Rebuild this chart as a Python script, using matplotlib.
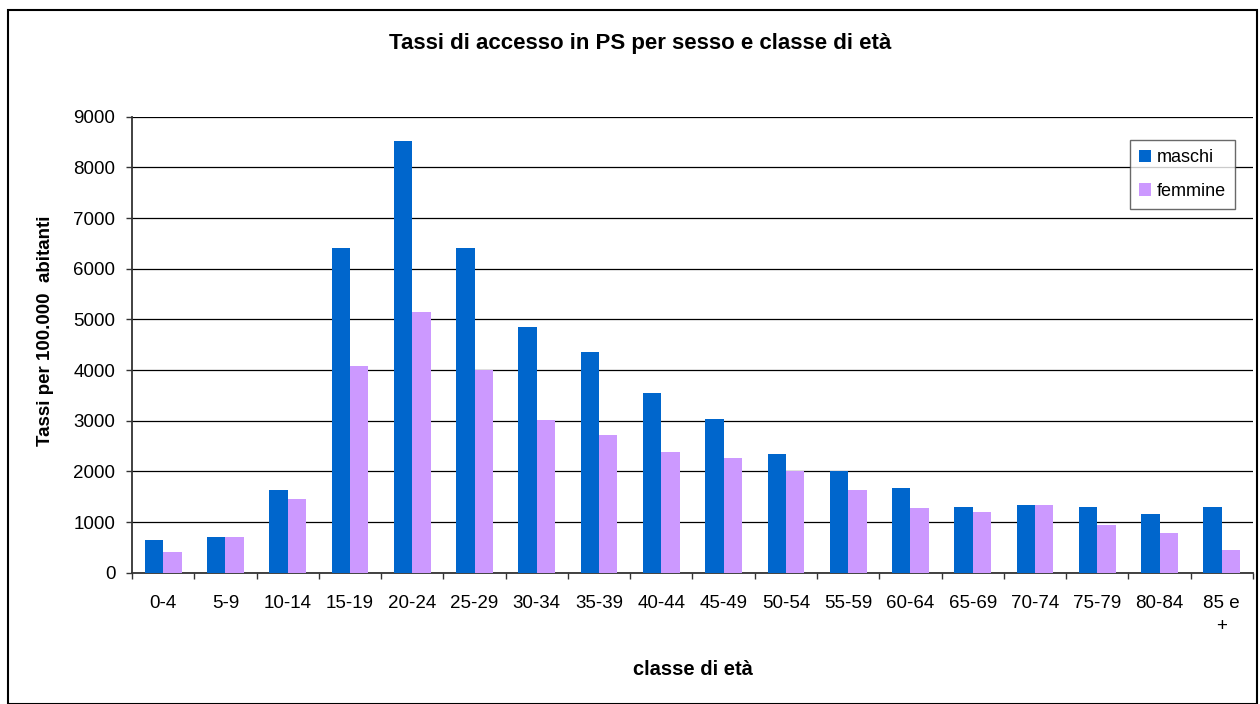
import matplotlib.pyplot as plt
import numpy as np
from matplotlib.patches import Rectangle

# age classes and rates per 100.000 inhabitants
classi = ['0-4', '5-9', '10-14', '15-19', '20-24', '25-29', '30-34', '35-39',
          '40-44', '45-49', '50-54', '55-59', '60-64', '65-69', '70-74',
          '75-79', '80-84', '85 e\n+']
maschi = [645, 704, 1632, 6408, 8520, 6408, 4849, 4350, 3538, 3043, 2350,
          2013, 1677, 1288, 1327, 1288, 1150, 1288]
femmine = [408, 704, 1454, 4079, 5145, 4000, 3023, 2726, 2389, 2271, 2013,
           1637, 1268, 1190, 1327, 935, 778, 444]

plt.rcParams['font.family'] = ['Liberation Sans', 'DejaVu Sans']

fig = plt.figure(figsize=(12.6, 7.04), dpi=100)
ax = fig.add_axes([0.1048, 0.1865, 0.8896, 0.6477])

x = np.arange(len(classi))
w = 0.295
ax.bar(x - w / 2, maschi, w, color='#0066CC', label='maschi', zorder=3)
ax.bar(x + w / 2, femmine, w, color='#CC99FF', label='femmine', zorder=3)

ax.set_xlim(-0.5, len(classi) - 0.5)
ax.set_ylim(0, 9000)
ax.set_yticks(range(0, 9001, 1000))
ax.yaxis.grid(True, color='black', linewidth=0.9, zorder=0)

# category labels centred, ticks on the category boundaries
ax.set_xticks(x)
ax.set_xticklabels(classi, fontsize=13.5, linespacing=1.45, va='top')
ax.set_xticks(np.arange(len(classi) + 1) - 0.5, minor=True)
ax.tick_params(axis='x', which='major', length=0, pad=16)
ax.tick_params(axis='x', which='minor', length=4, width=1, color='#333333')
ax.tick_params(axis='y', length=4, width=1, color='#333333', labelsize=13.5, pad=8)

for s in ['top', 'right']:
    ax.spines[s].set_visible(False)
ax.spines['left'].set_color('#333333')
ax.spines['bottom'].set_color('#333333')
ax.spines['left'].set_linewidth(1.3)
ax.spines['bottom'].set_linewidth(1.3)

ax.set_xlabel('classe di età', fontsize=14.5, fontweight='bold', labelpad=18)
fig.text(0.036, 0.53, 'Tassi per 100.000  abitanti', rotation=90,
         fontsize=13.5, fontweight='bold', ha='center', va='center')
fig.text(0.508, 0.938, 'Tassi di accesso in PS per sesso e classe di età',
         fontsize=16, fontweight='bold', ha='center', va='center')

leg = ax.legend(loc='upper right', bbox_to_anchor=(0.984, 0.948),
                fontsize=13, frameon=True, fancybox=False, handlelength=0.7,
                handleheight=0.7, handletextpad=0.3, borderpad=0.5,
                labelspacing=0.9, borderaxespad=0)
leg.get_frame().set_edgecolor('#444444')
leg.get_frame().set_linewidth(1)

# outer chart border
fig.patches.append(Rectangle((8 / 1260, 0.0), 1249 / 1260, 694 / 704,
                             transform=fig.transFigure, fill=False,
                             edgecolor='black', linewidth=1.5))

fig.savefig('out.png', dpi=100)
